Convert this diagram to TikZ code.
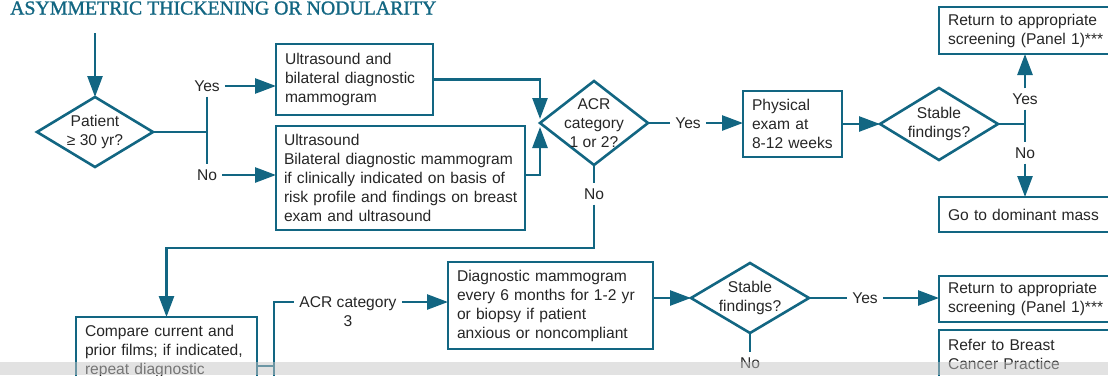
\documentclass[tikz,border=0pt]{standalone}
\usepackage{fontspec}
\setmainfont{Liberation Sans}
\newfontfamily\titlefont[FakeBold=1.2]{Liberation Serif}
\usepackage{xcolor}
\usepackage{tikz}
\usetikzlibrary{shapes,arrows.meta,positioning,calc}
\definecolor{flowteal}{RGB}{18,102,130}
\definecolor{flowtext}{RGB}{38,38,38}
\tikzset{
    conn/.style={draw=flowteal,line width=2.6pt},
    arr/.style={-{Triangle[length=21pt,width=15pt]}},
    box/.style={draw=flowteal,line width=2.6pt,anchor=north west,outer sep=0pt,inner xsep=9pt,inner ysep=0pt,align=left,text=flowtext},
    dec/.style={draw=flowteal,line width=2.6pt,diamond,outer sep=0pt,inner sep=0pt},
    txt/.style={text=flowtext,inner sep=0pt},
    lbl/.style={text=flowtext,inner xsep=5pt,inner ysep=5pt}
}

\begin{document}
\begin{tikzpicture}[x=1pt,y=-1pt,font=\fontsize{15.6}{19}\selectfont]
    \useasboundingbox (0,0) rectangle (1108,375);
    \clip (0,0) rectangle (1108,375);
    % title
    \node[anchor=base west,inner sep=0pt,text=flowteal,font=\titlefont\fontsize{19.8}{22}\selectfont] (title) at (10,14.5) {ASYMMETRIC THICKENING OR NODULARITY};
    % age
    \coordinate (start) at (95,33);
    \node[dec,minimum width=116pt,minimum height=70pt] (age) at (95,132) {};
    \node[txt,align=center] (agetxt) at (age) {Patient\\≥ 30 yr?};
    \draw[conn,arr] (start) -- (age.north);
    \node[lbl] (yesa) at (207,86) {Yes};
    \node[lbl] (noa) at (207,175) {No};
    \draw[conn] (age.east) -- (age.east -| yesa.south);
    \draw[conn] (yesa.south) -- (noa.north);
    % imaging
    \node[box,text width=139pt,minimum height=71pt] (usbil) at (276,44) {Ultrasound and\\bilateral diagnostic\\mammogram};
    \node[box,inner xsep=8pt,text width=233pt,minimum height=104pt] (usonly) at (276,126) {Ultrasound\\\mbox{Bilateral diagnostic mammogram}\\if clinically indicated on basis of\\\mbox{risk profile and findings on breast}\\exam and ultrasound};
    \draw[conn,arr] (yesa.east) -- (yesa.east -| usbil.west);
    \draw[conn,arr] (noa.east) -- (noa.east -| usonly.west);
    % ACR 1 or 2
    \node[dec,minimum width=108pt,minimum height=84pt] (acr) at (594,123) {};
    \node[txt,align=center] (acrtxt) at (acr) {ACR\\category\\1 or 2?};
    \draw[conn,arr] (usbil.east) -| ([yshift=4pt]acr.west);
    \draw[conn,arr] ([yshift=3pt]usonly.east) -| ([yshift=-4pt]acr.west);
    \node[lbl] (yesb) at (688,123) {Yes};
    \node[lbl] (nob) at (594,194) {No};
    \draw[conn] (acr.east) -- (yesb.west);
    \draw[conn] (acr.south) -- (nob.north);
    % follow up
    \node[box,text width=81pt,minimum height=66pt] (physexam) at (743,91) {Physical\\exam at\\8-12 weeks};
    \draw[conn,arr] (yesb.east) -- (yesb.east -| physexam.west);
    \node[dec,minimum width=118pt,minimum height=72pt] (stable) at (939,124) {};
    \node[txt,align=center] (stabletxt) at (stable) {Stable\\findings?};
    \draw[conn,arr] (physexam.east) -- (stable.west);
    \node[lbl] (yesc) at (1025,99) {Yes};
    \node[lbl] (noc) at (1025,153) {No};
    \draw[conn] (stable.east) -- (stable.east -| yesc.south);
    \draw[conn] (yesc.south) -- (noc.north);
    \node[box,text width=182pt,minimum height=47pt] (return) at (939,7) {Return to appropriate\\screening (Panel 1)***};
    \node[box,text width=182pt,minimum height=35pt] (dommass) at (939,197) {Go to dominant mass};
    \draw[conn,arr] (yesc.north) -- (yesc.north |- return.south);
    \draw[conn,arr] (noc.south) -- (noc.south |- dommass.north);
    % compare films
    \coordinate (back) at (594,248);
    \node[box,text width=163pt,minimum height=68pt] (compare) at (76,317) {Compare current and\\prior films; if indicated,\\repeat diagnostic};
    \draw[conn,arr] (nob.south) -- (back) -| (compare.north);
    % ACR 3
    \coordinate (catbr) at (274,302);
    \coordinate (catjoin) at (274,366);
    \coordinate (catdown) at (274,390);
    \node[lbl,align=center] (acrcat) at (348,311.5) {ACR category\\3};
    \draw[conn] (catjoin -| compare.east) -- (catjoin);
    \draw[conn] (catdown) -- (catbr) -- (catbr -| acrcat.west);
    \node[box,text width=187pt,minimum height=87pt] (diagmam) at (448,262) {Diagnostic mammogram\\every 6 months for 1-2 yr\\or biopsy if patient\\anxious or noncompliant};
    \draw[conn,arr] (catbr -| acrcat.east) -- (catbr -| diagmam.west);
    \node[dec,minimum width=118pt,minimum height=70pt] (stabletwo) at (750,298) {};
    \node[txt,align=center] (stabletwotxt) at (stabletwo) {Stable\\findings?};
    \draw[conn,arr] (diagmam.east |- stabletwo.west) -- (stabletwo.west);
    \node[lbl] (yesd) at (865,298) {Yes};
    \node[lbl] (nod) at (750,363) {No};
    \draw[conn] (stabletwo.east) -- (yesd.west);
    \draw[conn] (stabletwo.south) -- (nod.north);
    \node[box,text width=182pt,minimum height=46pt] (returntwo) at (939,276) {Return to appropriate\\screening (Panel 1)***};
    \node[box,text width=182pt,minimum height=48pt] (refer) at (939,330) {Refer to Breast\\Cancer Practice};
    \draw[conn,arr] (yesd.east) -- (yesd.east -| returntwo.west);
    % page edge
    \fill[gray!45,opacity=0.5] (0,362) rectangle (1108,375);
\end{tikzpicture}
\end{document}
